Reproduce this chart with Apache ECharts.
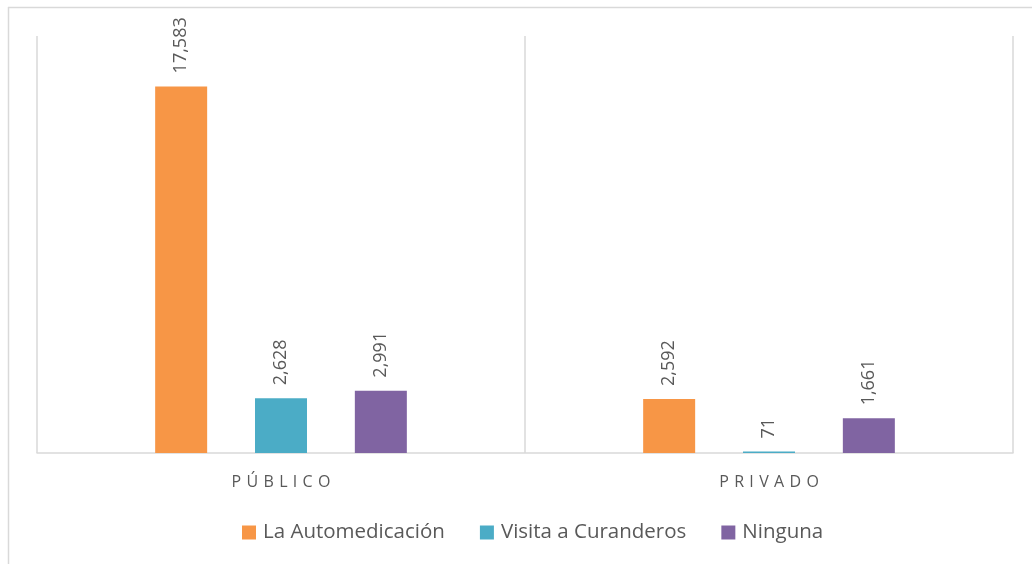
<!DOCTYPE html>
<html>
<head>
<meta charset="utf-8">
<script src="https://cdn.jsdelivr.net/npm/echarts@6/dist/echarts.min.js"></script>
<style>
  html, body { margin: 0; padding: 0; background: #fff; }
  #main { width: 1032px; height: 564px; }
</style>
</head>
<body>
<div id="main"></div>
<script>
const categories = ['PÚBLICO', 'PRIVADO'];
const seriesNames = ['La Automedicación', 'Visita a Curanderos', 'Ninguna'];
const automedicacion = [17583, 2592];
const curanderos = [2628, 71];
const ninguna = [2991, 1661];
const colors = ['#F79646', '#4BACC6', '#8064A2'];

const textColor = '#595959';
const fontFamily = '"Open Sans", "Noto Sans", sans-serif';

function makeSeries(name, data, color) {
    return {
        name: name,
        type: 'bar',
        data: data,
        barWidth: 52,
        barGap: '92%',
        itemStyle: {color: color},
        label: {
            show: true,
            position: 'top',
            rotate: 90,
            align: 'left',
            verticalAlign: 'middle',
            distance: 13,
            color: textColor,
            fontSize: 18,
            fontFamily: fontFamily,
            formatter: p => p.value.toLocaleString('en-US')
        }
    };
}

let chart = echarts.init(document.getElementById('main'));
chart.setOption({
    animation: false,
    color: colors,
    grid: {left: 37, right: 19, top: 36, bottom: 111, containLabel: false},
    graphic: [
        {type: 'line', shape: {x1: 8, y1: 7.5, x2: 1032, y2: 7.5}, style: {stroke: '#d9d9d9', lineWidth: 1.5}},
        {type: 'line', shape: {x1: 8.5, y1: 7, x2: 8.5, y2: 564}, style: {stroke: '#d9d9d9', lineWidth: 1.5}}
    ],
    legend: {
        bottom: 16,
        left: 237,
        itemWidth: 14,
        itemHeight: 14,
        itemGap: 35,
        icon: 'rect',
        textStyle: {color: textColor, fontSize: 20.5, fontFamily: fontFamily, padding: [0, 0, 0, 2]},
        data: seriesNames
    },
    xAxis: {
        type: 'category',
        data: categories,
        axisLine: {show: true, lineStyle: {color: '#d9d9d9', width: 1.5}},
        axisTick: {show: false},
        splitLine: {show: true, lineStyle: {color: '#d9d9d9', width: 1.5}},
        axisLabel: {
            color: textColor,
            fontSize: 16,
            fontFamily: fontFamily,
            margin: 21,
            formatter: v => v.split('').join('\u2004')
        }
    },
    yAxis: {
        type: 'value',
        min: 0,
        max: 20000,
        show: false
    },
    series: [
        makeSeries(seriesNames[0], automedicacion, colors[0]),
        makeSeries(seriesNames[1], curanderos, colors[1]),
        makeSeries(seriesNames[2], ninguna, colors[2])
    ]
});
</script>
</body>
</html>
